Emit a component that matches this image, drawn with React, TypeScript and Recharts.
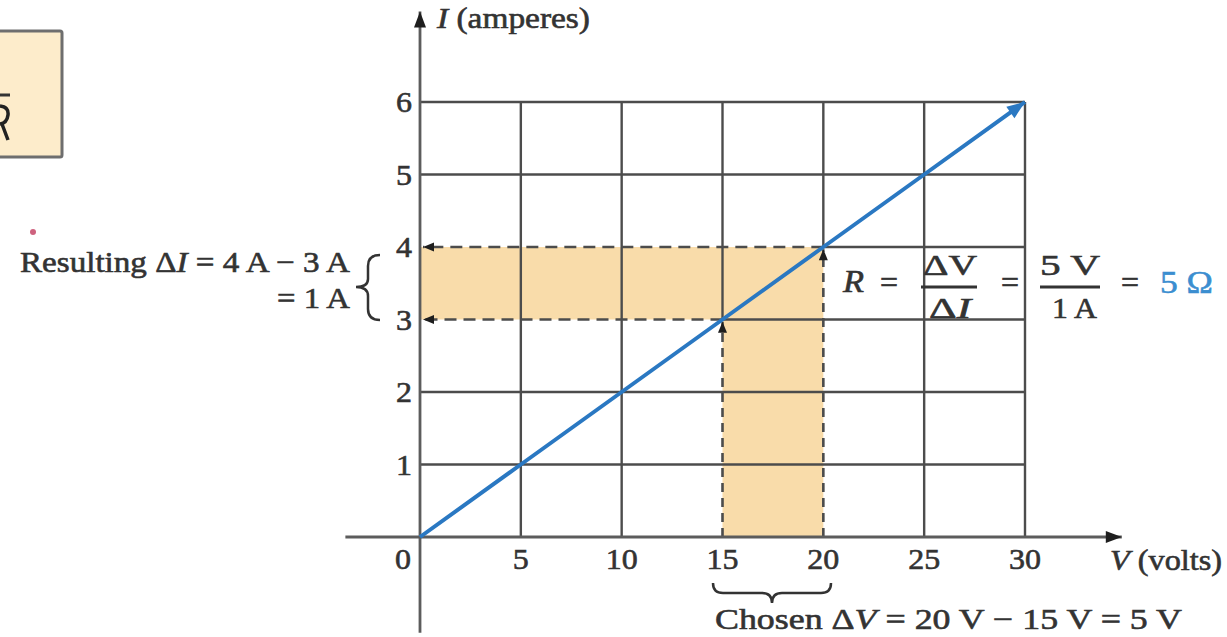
import React from "react";
import { ComposedChart, Line, XAxis, YAxis, ReferenceLine, ReferenceArea } from "recharts";

// volts on the x axis, amperes on the y axis
const voltage = [0, 5, 10, 15, 20, 25, 30];
const current = [0, 1, 2, 3, 4, 5, 6];
const chosenV = [15, 20];
const resultI = [3, 4];
const axisExtentV = [-3.7, 34.8];
const axisExtentI = [-1.32, 7.25];

const lineData = voltage.map((v, k) => ({ v, i: current[k] }));

const FONT = "'Liberation Serif', 'Times New Roman', serif";
const INK = "#333333";
const GRID = "#4c4c4c";
const PEACH = "#f9dcaa";
const BLUE = "#2a78c2";
const HEAVY = 0.6;

function head(x1: number, y1: number, x2: number, y2: number, len: number, half: number, fill: string) {
  const a = Math.atan2(y2 - y1, x2 - x1);
  const bx = x2 - len * Math.cos(a);
  const by = y2 - len * Math.sin(a);
  const nx = -Math.sin(a) * half;
  const ny = Math.cos(a) * half;
  return <polygon points={`${x2},${y2} ${bx + nx},${by + ny} ${bx - nx},${by - ny}`} fill={fill} />;
}

const arrowShape = (stroke: string, width: number, dash: string | undefined, len: number, half: number) => (p: any) => {
  const { x1, y1, x2, y2 } = p;
  return (
    <g>
      <line x1={x1} y1={y1} x2={x2} y2={y2} stroke={stroke} strokeWidth={width} strokeDasharray={dash} />
      {head(x1, y1, x2, y2, len, half, "#1e1e1e")}
    </g>
  );
};

let prevPt: { x: number; y: number } | null = null;
const blueDot = (p: any) => {
  const { cx, cy, index } = p;
  if (index === 0) prevPt = null;
  let el = <g key={`d${index}`} />;
  if (index === lineData.length - 1 && prevPt) {
    el = <g key={`d${index}`}>{head(prevPt.x, prevPt.y, cx, cy, 18, 7, BLUE)}</g>;
  }
  prevPt = { x: cx, y: cy };
  return el;
};

const XTick = (p: any) => {
  const { x, y, payload } = p;
  const dx = payload.value === 0 ? -17 : 0;
  const w = String(payload.value).length * 16;
  return (
    <text x={x + dx - w / 2} y={y + 24} fontFamily={FONT} fontSize={30} fill={INK} stroke={INK} strokeWidth={HEAVY}
      textLength={w} lengthAdjust="spacingAndGlyphs">
      {payload.value}
    </text>
  );
};

const YTick = (p: any) => {
  const { x, y, payload } = p;
  return (
    <text x={x - 16} y={y + 10} fontFamily={FONT} fontSize={30} fill={INK} stroke={INK} strokeWidth={HEAVY}
      textLength={16} lengthAdjust="spacingAndGlyphs">
      {payload.value}
    </text>
  );
};

// where a grid line meets the curve and turns into a dashed guide
const guideStartI = (v: number) => {
  const k = chosenV.indexOf(v);
  return k >= 0 ? resultI[k] : 0;
};
const guideStartV = (i: number) => {
  const k = resultI.indexOf(i);
  return k >= 0 ? chosenV[k] : 0;
};

const T = (props: any) => (
  <text fontFamily={FONT} fill={INK} stroke={props.fill || INK} strokeWidth={HEAVY} lengthAdjust="spacingAndGlyphs" {...props} />
);

export default function App() {
  const vMax = voltage[voltage.length - 1];
  const iMax = current[current.length - 1];
  return (
    <div style={{ position: "absolute", left: 0, top: 0, width: 1227, height: 637, background: "#fff", overflow: "hidden" }}>
      <ComposedChart width={1227} height={637} data={lineData} margin={{ top: 102, right: 202, left: 380, bottom: 60 }}>
        <XAxis
          type="number"
          dataKey="v"
          domain={[0, vMax]}
          ticks={voltage}
          interval={0}
          height={40}
          axisLine={false}
          tickLine={false}
          tick={XTick}
        />
        <YAxis
          type="number"
          domain={[0, iMax]}
          ticks={current.slice(1)}
          interval={0}
          width={40}
          axisLine={false}
          tickLine={false}
          tick={YTick}
        />

        <ReferenceArea x1={0} x2={chosenV[1]} y1={resultI[0]} y2={resultI[1]} fill={PEACH} fillOpacity={1} stroke="none" />
        <ReferenceArea x1={chosenV[0]} x2={chosenV[1]} y1={0} y2={resultI[0]} fill={PEACH} fillOpacity={1} stroke="none" />

        {voltage.slice(1).map((v) => (
          <ReferenceLine
            key={`gv${v}`}
            segment={[{ x: v, y: guideStartI(v) }, { x: v, y: iMax }]}
            stroke={GRID}
            strokeWidth={2.4}
            ifOverflow="visible"
          />
        ))}
        {current.slice(1).map((i) => (
          <ReferenceLine
            key={`gh${i}`}
            segment={[{ x: guideStartV(i), y: i }, { x: vMax, y: i }]}
            stroke={GRID}
            strokeWidth={2.4}
            ifOverflow="visible"
          />
        ))}

        {chosenV.map((v, k) => (
          <ReferenceLine
            key={`dv${v}`}
            segment={[{ x: v, y: 0 }, { x: v, y: resultI[k] - 0.03 }]}
            ifOverflow="visible"
            shape={arrowShape(GRID, 2.6, "9 6", 11, 4.5)}
          />
        ))}
        {resultI.map((i, k) => (
          <ReferenceLine
            key={`dh${i}`}
            segment={[{ x: chosenV[k], y: i }, { x: 0.15, y: i }]}
            ifOverflow="visible"
            shape={arrowShape(GRID, 2.6, "12 7", 11, 4.5)}
          />
        ))}

        <ReferenceLine
          segment={[{ x: axisExtentV[0], y: 0 }, { x: axisExtentV[1], y: 0 }]}
          ifOverflow="visible"
          shape={arrowShape("#5c5c5c", 2.8, undefined, 16, 6)}
        />
        <ReferenceLine
          segment={[{ x: 0, y: axisExtentI[0] }, { x: 0, y: axisExtentI[1] }]}
          ifOverflow="visible"
          shape={arrowShape("#5c5c5c", 2.8, undefined, 16, 6)}
        />

        <Line
          type="linear"
          dataKey="i"
          stroke={BLUE}
          strokeWidth={4}
          dot={blueDot}
          activeDot={false}
          isAnimationActive={false}
        />
      </ComposedChart>

      <svg width={1227} height={637} style={{ position: "absolute", left: 0, top: 0, pointerEvents: "none" }}>
        <rect x={-4} y={31} width={66} height={126} fill="#fdeccb" stroke="#6e6e6e" strokeWidth={3} rx={2} />
        <line x1={0} y1={95} x2={10} y2={95} stroke="#333" strokeWidth={3} />
        <path d="M0,106 Q9,107 8,115 Q7,123 0,124 M2,124 L8,140" fill="none" stroke="#222" strokeWidth={3.5} />

        <circle cx={33} cy={232} r={3} fill="#c23b5e" opacity={0.8} />

        <T x={437} y={28} fontSize={30} textLength={153}>
          <tspan fontStyle="italic">I</tspan> (amperes)
        </T>
        <T x={1110} y={570} fontSize={30} textLength={112}>
          <tspan fontStyle="italic">V</tspan> (volts)
        </T>

        <T x={20} y={272} fontSize={30} textLength={330}>
          Resulting Δ<tspan fontStyle="italic">I</tspan> = 4 A − 3 A
        </T>
        <T x={277} y={308} fontSize={30} textLength={73}>= 1 A</T>
        <path
          d="M380,255 Q368,255 368,266 L368,279 Q368,287 356,287 Q368,287 368,296 L368,309 Q368,320 380,320"
          fill="none"
          stroke={INK}
          strokeWidth={2.5}
        />

        <T x={843} y={292} fontSize={31} fontStyle="italic" textLength={21}>R</T>
        <T x={880} y={293} fontSize={31} textLength={18}>=</T>
        <T x={923} y={275} fontSize={29} textLength={54}>ΔV</T>
        <line x1={921} y1={287} x2={977} y2={287} stroke={INK} strokeWidth={2.8} />
        <T x={929} y={318} fontSize={29} textLength={42}>
          Δ<tspan fontStyle="italic">I</tspan>
        </T>
        <T x={1001} y={293} fontSize={31} textLength={18}>=</T>
        <T x={1040} y={275} fontSize={29} textLength={60}>5 V</T>
        <line x1={1040} y1={287} x2={1100} y2={287} stroke={INK} strokeWidth={2.8} />
        <T x={1052} y={318} fontSize={29} textLength={45}>1 A</T>
        <T x={1121} y={293} fontSize={31} textLength={18}>=</T>
        <T x={1160} y={293} fontSize={31} fill="#3b8ed0" textLength={53}>5 Ω</T>

        <path
          d="M713,583 Q713,593 723,593 L762,593 Q772,593 772,603 Q772,593 782,593 L821,593 Q831,593 831,583"
          fill="none"
          stroke={INK}
          strokeWidth={2.5}
        />
        <T x={715} y={629} fontSize={30} textLength={467}>
          Chosen Δ<tspan fontStyle="italic">V</tspan> = 20 V − 15 V = 5 V
        </T>
      </svg>
    </div>
  );
}
